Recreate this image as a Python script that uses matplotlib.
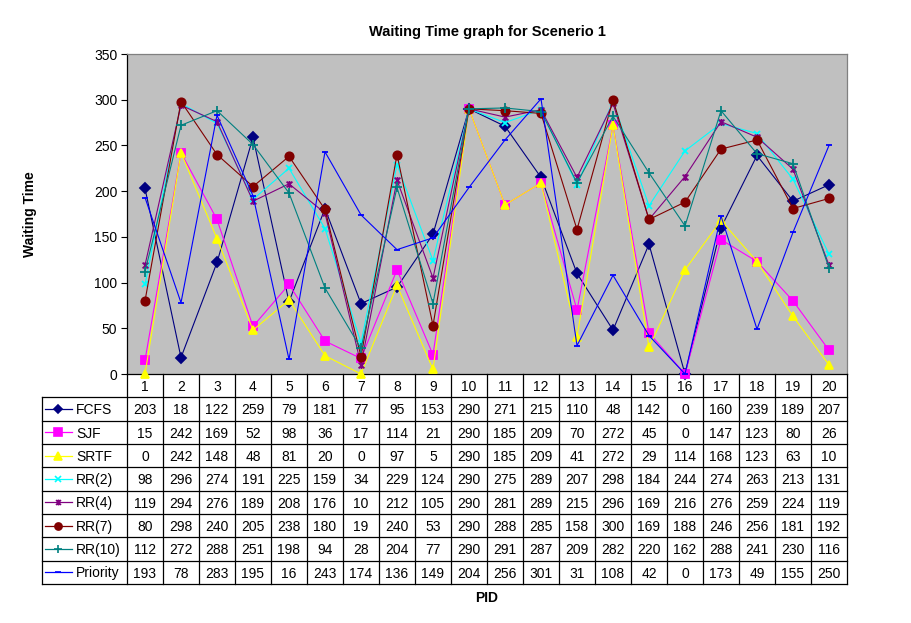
import numpy as np
import matplotlib
matplotlib.use('Agg')
import matplotlib.pyplot as plt
from matplotlib.path import Path

plt.rcParams['font.family'] = ['Liberation Sans', 'DejaVu Sans']

pids = [str(i) for i in range(1, 21)]
fcfs = [203, 18, 122, 259, 79, 181, 77, 95, 153, 290, 271, 215, 110, 48, 142, 0, 160, 239, 189, 207]
sjf = [15, 242, 169, 52, 98, 36, 17, 114, 21, 290, 185, 209, 70, 272, 45, 0, 147, 123, 80, 26]
srtf = [0, 242, 148, 48, 81, 20, 0, 97, 5, 290, 185, 209, 41, 272, 29, 114, 168, 123, 63, 10]
rr2 = [98, 296, 274, 191, 225, 159, 34, 229, 124, 290, 275, 289, 207, 298, 184, 244, 274, 263, 213, 131]
rr4 = [119, 294, 276, 189, 208, 176, 10, 212, 105, 290, 281, 289, 215, 296, 169, 216, 276, 259, 224, 119]
rr7 = [80, 298, 240, 205, 238, 180, 19, 240, 53, 290, 288, 285, 158, 300, 169, 188, 246, 256, 181, 192]
rr10 = [112, 272, 288, 251, 198, 94, 28, 204, 77, 290, 291, 287, 209, 282, 220, 162, 288, 241, 230, 116]
priority = [193, 78, 283, 195, 16, 243, 174, 136, 149, 204, 256, 301, 31, 108, 42, 0, 173, 49, 155, 250]

names = ['FCFS', 'SJF', 'SRTF', 'RR(2)', 'RR(4)', 'RR(7)', 'RR(10)', 'Priority']
series = [fcfs, sjf, srtf, rr2, rr4, rr7, rr10, priority]
colors = ['#000080', '#FF00FF', '#FFFF00', '#00FFFF', '#800080', '#800000', '#008080', '#0000FF']

# excel style asterisk: x with a vertical bar
star = Path([(-1, -1), (1, 1), (-1, 1), (1, -1), (0, -1.2), (0, 1.2)],
            [Path.MOVETO, Path.LINETO, Path.MOVETO, Path.LINETO, Path.MOVETO, Path.LINETO])
markers = ['D', 's', '^', 'x', star, 'o', '+', '_']
msizes = [5, 6, 6, 5, 5, 6, 7, 5]

W, H = 911, 623
fig = plt.figure(figsize=(W / 100, H / 100), dpi=100)

# plot area in pixels: x 127..847, y 54..374
ax = fig.add_axes([127 / W, 1 - 374 / H, 720 / W, 320 / H])
ax.set_facecolor('#C0C0C0')
x = np.arange(len(pids))
for vals, c, m, ms in zip(series, colors, markers, msizes):
    ax.plot(x, vals, color=c, marker=m, markersize=ms, linewidth=0.8,
            markeredgewidth=1.3, clip_on=False, zorder=3)
ax.set_xlim(-0.5, len(pids) - 0.5)
ax.set_ylim(0, 350)
ax.set_yticks(range(0, 351, 50))
ax.set_xticks([])
ax.tick_params(axis='y', labelsize=10, length=4, width=0.8, direction='out', pad=3)
for s in ['top', 'right']:
    ax.spines[s].set_color('#808080')
ax.spines['left'].set_color('black')
ax.spines['bottom'].set_color('black')
for s in ax.spines.values():
    s.set_linewidth(0.9)
ax.set_title('Waiting Time graph for Scenerio 1', fontsize=10.5, fontweight='bold', pad=13)
fig.text(30 / W, 1 - 214 / H, 'Waiting Time', rotation=90, fontsize=10,
         fontweight='bold', ha='center', va='center')

# data table below the plot
tx = fig.add_axes([127 / W, 1 - 584 / H, 720 / W, 210 / H])
tx.set_xlim(-0.5, len(pids) - 0.5)
tx.set_ylim(len(series) + 1, 0)
tx.axis('off')
tx.patch.set_alpha(0)
left = -0.5 - 85 / 36
n = len(pids)
nr = len(series) + 1
lw = 0.9
for k in range(n + 1):
    tx.plot([k - 0.5, k - 0.5], [0, nr], color='black', lw=lw, clip_on=False)
tx.plot([left, left], [1, nr], color='black', lw=lw, clip_on=False)
for r in range(1, nr + 1):
    tx.plot([left, n - 0.5], [r, r], color='black', lw=lw, clip_on=False)
for i, p in enumerate(pids):
    tx.text(i, 0.55, p, ha='center', va='center', fontsize=10)
for r, (name, vals, c, m, ms) in enumerate(zip(names, series, colors, markers, msizes), start=1):
    yc = r + 0.5
    tx.plot([left + 0.08, left + 0.83], [yc, yc], color=c, lw=0.9, clip_on=False)
    tx.plot([left + 0.45], [yc], color=c, marker=m, markersize=ms * 0.85,
            markeredgewidth=1.2, clip_on=False)
    tx.text(left + 0.95, yc + 0.05, name, ha='left', va='center', fontsize=10)
    for i, v in enumerate(vals):
        tx.text(i, yc + 0.05, str(v), ha='center', va='center', fontsize=10)

fig.text(487 / W, 1 - 598 / H, 'PID', fontsize=10, fontweight='bold', ha='center', va='center')

fig.savefig('out.png', dpi=100)
